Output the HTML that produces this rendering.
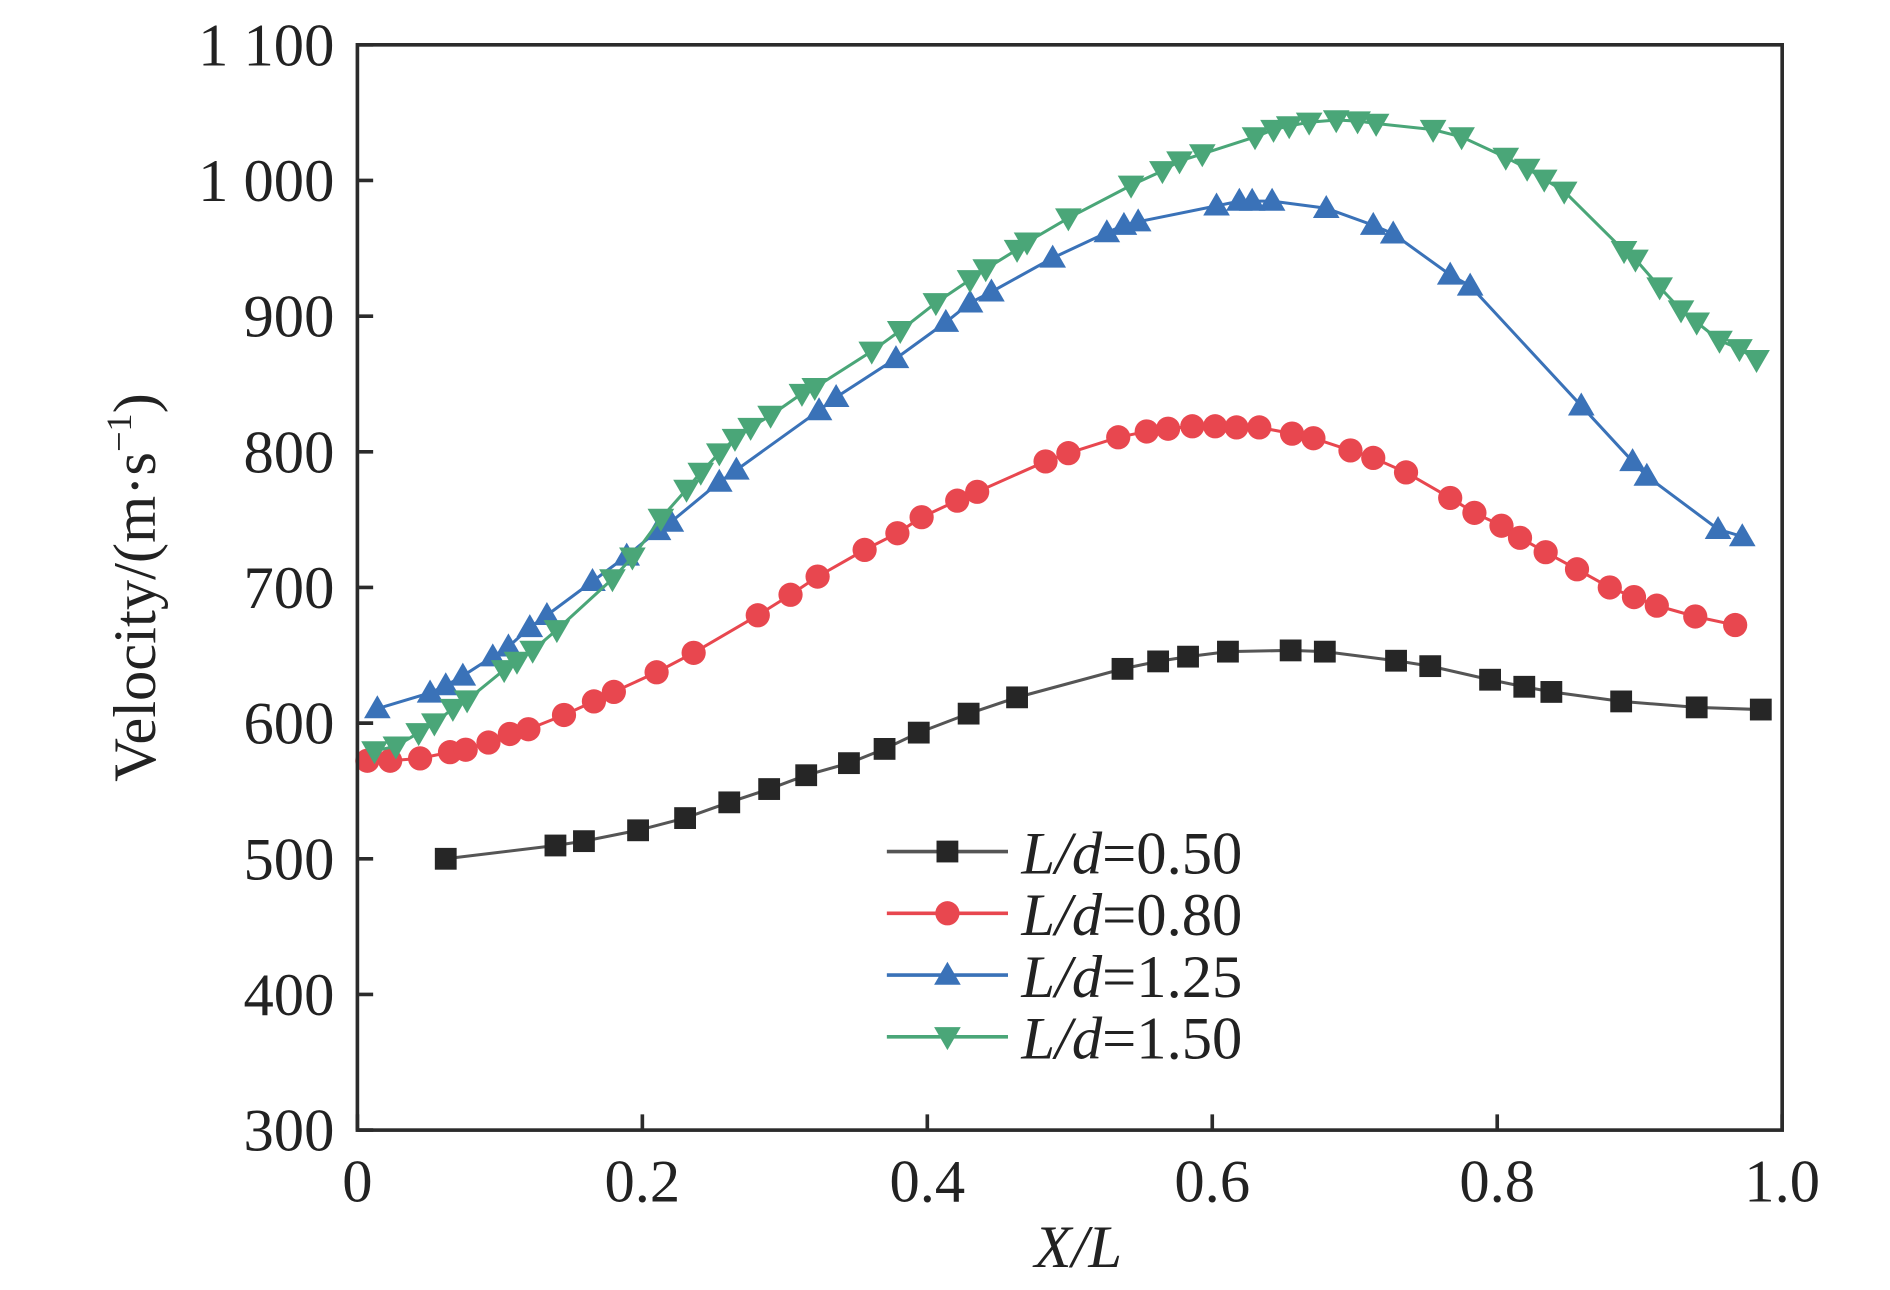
<!DOCTYPE html>
<html><head><meta charset="utf-8"><style>
html,body{margin:0;padding:0;background:#fff;}
svg{display:block;font-family:"Liberation Serif",serif;}
</style></head><body>
<svg id="chart" width="1890" height="1290" viewBox="0 0 1560 1065" preserveAspectRatio="none">
<g id="plot"></g>
</svg>
<script>
const seriesNames = ['L/d=0.50','L/d=0.80','L/d=1.25','L/d=1.50'];
const xTicks = [0,0.2,0.4,0.6,0.8,1.0];
const xTickLabels = ['0','0.2','0.4','0.6','0.8','1.0'];
const yTicks = [300,400,500,600,700,800,900,1000,1100];
const yTickLabels = ['300','400','500','600','700','800','900','1 000','1 100'];
const x050 = [.062,.139,.159,.197,.230,.261,.289,.315,.345,.370,.394,.429,.463,.537,.562,.583,.611,.655,.679,.729,.753,.795,.819,.838,.887,.940,.985];
const y050 = [500,509.8,513,521,530,541.6,551.4,561.6,570.5,581,593,607,619,640,645.5,649,652.7,653.6,652.7,646,642,632,626.8,623,616,611.6,610];
const x080 = [.007,.023,.044,.065,.076,.092,.107,.120,.145,.166,.180,.210,.236,.281,.304,.323,.356,.379,.396,.421,.435,.483,.499,.534,.554,.569,.586,.602,.617,.633,.656,.671,.697,.713,.736,.767,.784,.803,.816,.834,.856,.879,.896,.912,.939,.967];
const y080 = [572.3,572.3,574,578.6,580.4,585.7,592,595.5,606,616,623,637.5,651.8,679.5,694.6,708,727.7,740,751.8,764,770.5,792.9,799,810.7,815,817,818.8,818.8,818,818,813.4,810,801,795.5,784.8,766,755,745.5,736.6,726,713.4,700,692.9,686.6,678.6,672.3];
const x125 = [.014,.051,.062,.074,.095,.106,.121,.133,.165,.189,.211,.220,.254,.266,.324,.336,.378,.413,.430,.445,.488,.526,.538,.548,.603,.619,.628,.642,.680,.713,.727,.767,.781,.859,.895,.905,.955,.972];
const y125 = [610.7,622.3,627.7,634.8,649,656.3,670.5,679.5,704.5,723.2,742,748.2,777.7,786.6,830.4,840.2,868.8,895.5,909.8,917.9,942.9,961.6,967,969.6,981.3,984.8,984.8,984.8,979.5,967,960.7,930.4,922.3,833.9,792.9,782.1,742.9,737.5];
const x150 = [.012,.027,.043,.054,.067,.077,.103,.112,.123,.140,.179,.193,.213,.231,.241,.254,.265,.276,.290,.312,.321,.361,.381,.406,.430,.441,.463,.470,.499,.543,.565,.577,.593,.630,.643,.654,.668,.687,.702,.715,.755,.775,.806,.821,.833,.847,.889,.897,.914,.929,.940,.956,.970,.982];
const y150 = [579.5,583,592.9,600,610.7,617,639.3,645.5,653.6,668.8,706.3,722.3,750.9,772.3,784.8,799.1,809.8,817.9,826.8,842.9,847.3,874.1,889.3,909.8,926.8,934.8,949.1,954.5,972.3,996.4,1007.1,1014.3,1019.6,1032.1,1037.5,1040.2,1042.9,1044.6,1043.8,1042,1037.5,1032.1,1017,1008.9,1000.9,992,948.2,941.9,921.4,904.5,895.5,882.1,875.9,867.9];

const NS='http://www.w3.org/2000/svg';
const X0=295,X1=1471,Y0=933,Y1=37;
function sx(v){return X0+(v-0)/(1-0)*(X1-X0);}
function sy(v){return Y0-(v-300)/(1100-300)*(Y0-Y1);}
const g=document.getElementById('plot');
function mk(tag,attrs,parent){const e=document.createElementNS(NS,tag);for(const k in attrs)e.setAttribute(k,attrs[k]);(parent||g).appendChild(e);return e;}
function marker(type,cx,cy,color,parent){
  let e;
  if(type==='sq') e=mk('rect',{x:cx-9,y:cy-9,width:18,height:18,fill:color},parent);
  else if(type==='ci') e=mk('circle',{cx:cx,cy:cy,r:10,fill:color},parent);
  else if(type==='up') e=mk('polygon',{points:`${cx},${cy-11} ${cx-11},${cy+8} ${cx+11},${cy+8}`,fill:color},parent);
  else e=mk('polygon',{points:`${cx},${cy+11} ${cx-11},${cy-8} ${cx+11},${cy-8}`,fill:color},parent);
  return e;
}
const series=[
 {xs:x050,ys:y050,color:'#262626',line:'#555',m:'sq',key:'series-ld-050'},
 {xs:x080,ys:y080,color:'#e8474f',line:'#e8474f',m:'ci',key:'series-ld-080'},
 {xs:x125,ys:y125,color:'#3a72b8',line:'#3a72b8',m:'up',key:'series-ld-125'},
 {xs:x150,ys:y150,color:'#4aa678',line:'#4aa678',m:'dn',key:'series-ld-150'}
];
series.forEach((s,si)=>{
  const sg=mk('g',{});
  
  
  const pts=s.xs.map((x,i)=>sx(x)+','+sy(s.ys[i])).join(' ');
  const pl=mk('polyline',{points:pts,fill:'none',stroke:s.line,'stroke-width':2.5},sg);
  
  
  s.xs.forEach((x,i)=>{
    const e=marker(s.m,sx(x),sy(s.ys[i]),s.color,sg);
    
    
  });
});
const fr=mk('rect',{x:X0,y:Y1,width:X1-X0,height:Y0-Y1,fill:'none',stroke:'#2b2b2b','stroke-width':3});


xTicks.forEach((t,i)=>{
  const x=sx(t);
  const tk=mk('line',{x1:x,x2:x,y1:Y0,y2:Y0-13,stroke:'#2b2b2b','stroke-width':3});
  
  
  const tx=mk('text',{x:x,y:992,'text-anchor':'middle','font-size':50,fill:'#222'});
  tx.textContent=xTickLabels[i];
  
  
});
yTicks.forEach((t,i)=>{
  const y=sy(t);
  const tk=mk('line',{x1:X0,x2:X0+13,y1:y,y2:y,stroke:'#2b2b2b','stroke-width':3});
  
  
  const tx=mk('text',{x:276,y:y+17,'text-anchor':'end','font-size':50,fill:'#222'});
  tx.textContent=yTickLabels[i];
  
  
});
const xt=mk('text',{x:890,y:1046,'text-anchor':'middle','font-size':50,'font-style':'italic',fill:'#222'});
xt.textContent='X/L';


const yt=mk('text',{x:0,y:0,'text-anchor':'middle','font-size':50,fill:'#222',transform:'translate(128,485) rotate(-90)'});
yt.innerHTML='Velocity/(m·s<tspan dy="-20" font-size="30">−1</tspan><tspan dy="20">)</tspan>';


const lg=mk('g',{});


series.forEach((s,i)=>{
  const y=703+i*51;
  const eg=mk('g',{},lg);
  
  
  mk('line',{x1:732,x2:832,y1:y,y2:y,stroke:s.line,'stroke-width':3},eg);
  marker(s.m,782,y,s.color,eg);
  const t=mk('text',{x:843,y:y+18,'font-size':50,fill:'#222'},eg);
  const parts=seriesNames[i].split('=');
  t.innerHTML='<tspan font-style="italic">'+parts[0]+'</tspan>='+parts[1];
});
</script>
</body></html>
